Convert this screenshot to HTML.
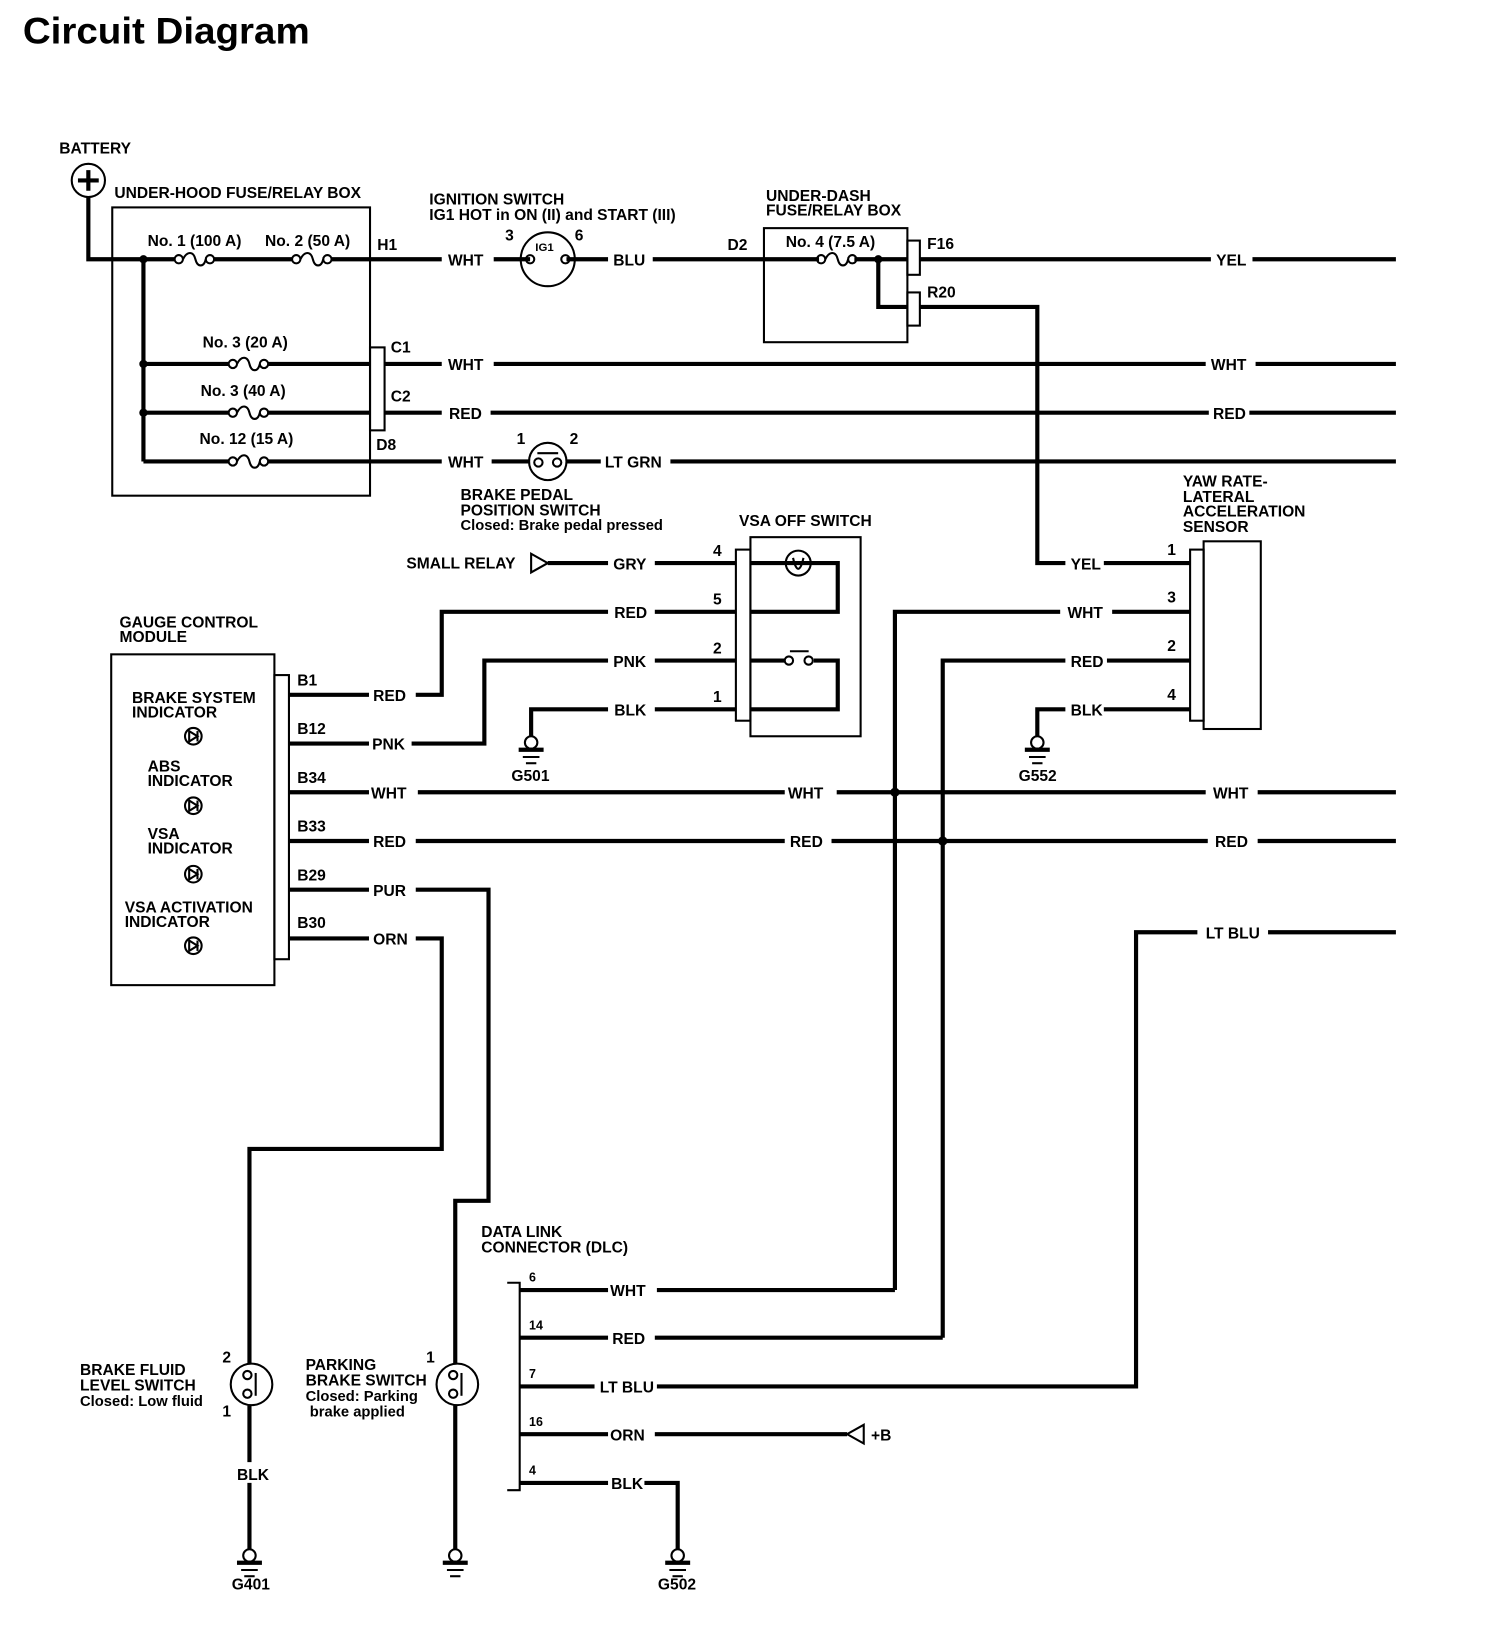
<!DOCTYPE html>
<html><head><meta charset="utf-8"><style>
html,body{margin:0;padding:0;background:#fff;}
svg{display:block}
text{font-family:"Liberation Sans",Arial,sans-serif;font-weight:bold;fill:#000;font-size:15px}
.w{stroke:#000;stroke-width:4;fill:none}
.t{stroke:#000;stroke-width:2;fill:none}
</style></head><body>
<svg width="1504" height="1626" viewBox="0 0 1447 1568" preserveAspectRatio="none" xmlns="http://www.w3.org/2000/svg">
<defs>
<g id="fuse"><circle cx="4" cy="0" r="4" class="t" fill="#fff"/><path d="M8,0 C12,-8 18,-8 20,0 C22,8 28,8 30,0" class="t"/><circle cx="34" cy="0" r="4" class="t"/></g>
<g id="gnd"><circle cx="0" cy="0" r="6" class="t" fill="#fff"/><line x1="-12" y1="7" x2="12" y2="7" class="w" stroke-width="3"/><line x1="-8" y1="14" x2="8" y2="14" class="t"/><line x1="-5" y1="20" x2="5" y2="20" class="t"/></g>
<g id="ind"><circle r="8" class="t" stroke-width="3"/><path d="M-4,-5 L4,0 L-4,5 Z" class="t" stroke-width="2"/><line x1="4" y1="-5" x2="4" y2="5" class="t"/></g>
</defs>
<text x="22" y="42" style="font-size:36px" textLength="276" lengthAdjust="spacingAndGlyphs">Circuit Diagram</text>

<text x="57" y="148">BATTERY</text>
<circle cx="85" cy="174" r="16" class="t"/>
<path d="M85,164 V184 M75,174 H95" class="w" stroke-width="3"/>
<text x="110" y="191">UNDER-HOOD FUSE/RELAY BOX</text>
<rect x="108" y="200" width="248" height="278" class="t"/>
<path d="M85,190 V250 H168 M206,250 H281 M319,250 H425" class="w"/>
<use href="#fuse" x="168" y="250"/><use href="#fuse" x="281" y="250"/>
<path d="M138,250 V445" class="w"/>
<circle cx="138" cy="250" r="4"/><circle cx="138" cy="351" r="4"/><circle cx="138" cy="398" r="4"/>
<text x="142" y="237">No. 1 (100 A)</text><text x="255" y="237">No. 2 (50 A)</text>
<text x="363" y="241">H1</text>
<path d="M138,351 H220 M258,351 H356 M138,398 H220 M258,398 H356 M138,445 H220 M258,445 H425" class="w"/>
<use href="#fuse" x="220" y="351"/><use href="#fuse" x="220" y="398"/><use href="#fuse" x="220" y="445"/>
<text x="195" y="335">No. 3 (20 A)</text><text x="193" y="382">No. 3 (40 A)</text><text x="192" y="428">No. 12 (15 A)</text>
<rect x="356" y="335" width="14" height="80" class="t"/>
<text x="376" y="340">C1</text><text x="376" y="387">C2</text><text x="362" y="434">D8</text>

<text x="413" y="197">IGNITION SWITCH</text>
<text x="413" y="212">IG1 HOT in ON (II) and START (III)</text>
<text x="431" y="256">WHT</text>
<path d="M475,250 H510 M545,250 H585" class="w"/>
<circle cx="527" cy="250" r="26" class="t"/>
<circle cx="510" cy="250" r="4" class="t" fill="#fff"/><circle cx="544" cy="250" r="4" class="t" fill="#fff"/>
<text x="515" y="242" style="font-size:11px">IG1</text>
<text x="486" y="232">3</text><text x="553" y="232">6</text>
<text x="590" y="256">BLU</text>
<path d="M628,250 H788 M822,250 H873" class="w"/>
<use href="#fuse" x="786" y="250"/>
<text x="700" y="241">D2</text>
<text x="737" y="194">UNDER-DASH</text><text x="737" y="208">FUSE/RELAY BOX</text>
<rect x="735" y="220" width="138" height="110" class="t"/>
<text x="756" y="238">No. 4 (7.5 A)</text>
<circle cx="845" cy="250" r="4"/>
<path d="M845,250 V296 H873" class="w"/>
<rect x="873" y="232" width="12" height="33" class="t"/>
<rect x="873" y="282" width="12" height="32" class="t"/>
<text x="892" y="240">F16</text><text x="892" y="287">R20</text>
<path d="M885,250 H1165 M1205,250 H1343" class="w"/>
<text x="1170" y="256">YEL</text>
<path d="M885,296 H998 V543 H1025 M1062,543 H1145" class="w"/>
<text x="1030" y="549">YEL</text>

<text x="431" y="357">WHT</text><path d="M370,351 H425 M475,351 H1160 M1208,351 H1343" class="w"/><text x="1165" y="357">WHT</text>
<text x="432" y="404">RED</text><path d="M370,398 H425 M472,398 H1163 M1202,398 H1343" class="w"/><text x="1167" y="404">RED</text>
<text x="431" y="451">WHT</text>
<path d="M473,445 H510 M545,445 H578 M645,445 H1343" class="w"/>
<circle cx="527" cy="445" r="18" class="t"/>
<circle cx="518" cy="446" r="4" class="t" fill="#fff"/><circle cx="536" cy="446" r="4" class="t" fill="#fff"/>
<line x1="517" y1="437" x2="537" y2="437" class="t"/>
<text x="497" y="428">1</text><text x="548" y="428">2</text>
<text x="582" y="451">LT GRN</text>
<text x="443" y="482">BRAKE PEDAL</text><text x="443" y="497">POSITION SWITCH</text>
<text x="443" y="511" style="font-size:14.2px">Closed: Brake pedal pressed</text>

<text x="711" y="507">VSA OFF SWITCH</text>
<rect x="722" y="518" width="106" height="192" class="t"/>
<rect x="708" y="530" width="14" height="165" class="t"/>
<path d="M722,543 H806 V590 H722 M722,637 H755 M783,637 H806 V684 H722" class="w"/>
<circle cx="768" cy="543" r="12" class="t" fill="#fff"/><path d="M763,538 C766,552 770,552 773,538" class="t"/>
<circle cx="759" cy="637" r="4" class="t" fill="#fff"/><circle cx="778" cy="637" r="4" class="t" fill="#fff"/><line x1="760" y1="628" x2="778" y2="628" class="t"/>
<text x="686" y="536">4</text><text x="686" y="583">5</text><text x="686" y="630">2</text><text x="686" y="677">1</text>
<text x="391" y="548">SMALL RELAY</text>
<path d="M511,534 L527,543 L511,552 Z" class="t"/>
<path d="M527,543 H585 M630,543 H708" class="w"/><text x="590" y="549">GRY</text>
<path d="M400,670 H425 V590 H585 M630,590 H708" class="w"/><text x="591" y="596">RED</text>
<path d="M396,717 H466 V637 H585 M630,637 H708" class="w"/><text x="590" y="643">PNK</text>
<path d="M511,710 V684 H585 M630,684 H708" class="w"/><text x="591" y="690">BLK</text>
<use href="#gnd" x="511" y="716"/><text x="492" y="753">G501</text>

<text x="1138" y="469">YAW RATE-</text><text x="1138" y="484">LATERAL</text><text x="1138" y="498">ACCELERATION</text><text x="1138" y="513">SENSOR</text>
<rect x="1158" y="522" width="55" height="181" class="t"/>
<rect x="1145" y="530" width="13" height="165" class="t"/>
<text x="1123" y="535">1</text><text x="1123" y="581">3</text><text x="1123" y="628">2</text><text x="1123" y="675">4</text>
<path d="M861,1244 V590 H1020 M1070,590 H1145" class="w"/><text x="1027" y="596">WHT</text>
<path d="M907,1290 V637 H1025 M1065,637 H1145" class="w"/><text x="1030" y="643">RED</text>
<path d="M998,710 V684 H1025 M1062,684 H1145" class="w"/><text x="1030" y="690">BLK</text>
<use href="#gnd" x="998" y="716"/><text x="980" y="753">G552</text>

<text x="115" y="605">GAUGE CONTROL</text><text x="115" y="619">MODULE</text>
<rect x="107" y="631" width="157" height="319" class="t"/>
<rect x="264" y="651" width="14" height="274" class="t"/>
<text x="127" y="678">BRAKE SYSTEM</text><text x="127" y="692">INDICATOR</text><use href="#ind" x="186" y="710"/>
<text x="142" y="744">ABS</text><text x="142" y="758">INDICATOR</text><use href="#ind" x="186" y="777"/>
<text x="142" y="809">VSA</text><text x="142" y="823">INDICATOR</text><use href="#ind" x="186" y="843"/>
<text x="120" y="880">VSA ACTIVATION</text><text x="120" y="894">INDICATOR</text><use href="#ind" x="186" y="912"/>
<text x="286" y="661">B1</text><text x="286" y="708">B12</text><text x="286" y="755">B34</text><text x="286" y="802">B33</text><text x="286" y="849">B29</text><text x="286" y="895">B30</text>
<path d="M278,670 H355 M278,717 H355 M278,764 H355 M278,811 H355 M278,858 H355 M278,905 H355" class="w"/>
<text x="359" y="676">RED</text><text x="358" y="723">PNK</text><text x="357" y="770">WHT</text><text x="359" y="817">RED</text><text x="359" y="864">PUR</text><text x="359" y="911">ORN</text>
<path d="M402,764 H755 M805,764 H1160 M1210,764 H1343" class="w"/><text x="758" y="770">WHT</text><text x="1167" y="770">WHT</text>
<path d="M400,811 H755 M800,811 H1162 M1210,811 H1343" class="w"/><text x="760" y="817">RED</text><text x="1169" y="817">RED</text>
<circle cx="861" cy="764" r="4.5"/><circle cx="907" cy="811" r="4.5"/>
<path d="M1220,899 H1343 M1152,899 H1093 V1337 H632" class="w"/><text x="1160" y="905">LT BLU</text>
<path d="M400,858 H470 V1158 H438 V1315 M438,1355 V1494" class="w"/>
<path d="M400,905 H425 V1108 H240 V1315 M240,1355 V1410 M240,1430 V1494" class="w"/>
<circle cx="242" cy="1335" r="20" class="t"/><circle cx="440" cy="1335" r="20" class="t"/>
<circle cx="238" cy="1326" r="4" class="t"/><circle cx="238" cy="1344" r="4" class="t"/><path d="M246,1324 V1346" class="t"/>
<circle cx="436" cy="1326" r="4" class="t"/><circle cx="436" cy="1344" r="4" class="t"/><path d="M444,1324 V1346" class="t"/>
<text x="214" y="1314">2</text><text x="214" y="1366">1</text><text x="410" y="1314">1</text>
<text x="77" y="1326">BRAKE FLUID</text><text x="77" y="1341">LEVEL SWITCH</text><text x="77" y="1356" style="font-size:14.2px">Closed: Low fluid</text>
<text x="294" y="1321">PARKING</text><text x="294" y="1336">BRAKE SWITCH</text><text x="294" y="1351" style="font-size:14.2px">Closed: Parking</text><text x="298" y="1366" style="font-size:14.2px">brake applied</text>
<text x="228" y="1427">BLK</text>
<use href="#gnd" x="240" y="1500"/><text x="223" y="1533">G401</text>
<use href="#gnd" x="438" y="1500"/>

<text x="463" y="1193">DATA LINK</text><text x="463" y="1208">CONNECTOR (DLC)</text>
<path d="M488,1237 H500 V1437 H488" class="t"/>
<path d="M500,1244 H585 M632,1244 H861 M500,1290 H585 M630,1290 H907 M500,1337 H572 M500,1383 H585 M630,1383 H815 M500,1430 H585 M620,1430 H652 V1494" class="w"/>
<text x="509" y="1236" style="font-size:12px">6</text><text x="509" y="1282" style="font-size:12px">14</text><text x="509" y="1329" style="font-size:12px">7</text><text x="509" y="1375" style="font-size:12px">16</text><text x="509" y="1422" style="font-size:12px">4</text>
<text x="587" y="1250">WHT</text><text x="589" y="1296">RED</text><text x="577" y="1343">LT BLU</text><text x="587" y="1389">ORN</text><text x="588" y="1436">BLK</text>
<path d="M831,1374 L815,1383 L831,1392 Z" class="t"/><text x="838" y="1389">+B</text>
<use href="#gnd" x="652" y="1500"/><text x="633" y="1533">G502</text>
</svg>
</body></html>
